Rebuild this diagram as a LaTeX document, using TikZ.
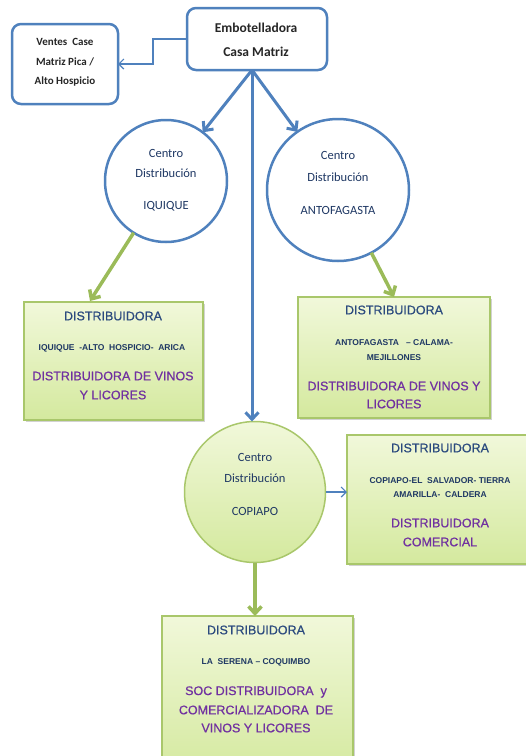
\documentclass[tikz,border=0pt]{standalone}
\usepackage{fontspec}
\setmainfont{Liberation Sans}
\newfontfamily\calibrifont{Carlito}
\newfontfamily\heavysans[FakeBold=0.6]{Liberation Sans}
\usetikzlibrary{arrows.meta,shadows}

\definecolor{oblue}{HTML}{4F81BD}
\definecolor{ogreen}{HTML}{9BBB59}
\definecolor{boxedge}{HTML}{A9C76B}
\definecolor{navy}{HTML}{1F3864}
\definecolor{titleblue}{HTML}{2B4A7E}
\definecolor{purp}{HTML}{7030A0}
\definecolor{filltop}{HTML}{F1F8DA}
\definecolor{fillbot}{HTML}{D4E99E}

\tikzset{
  roundbox/.style={draw=oblue, line width=2.5pt, rounded corners=9pt, fill=white, inner sep=0pt, outer sep=0pt},
  plaincircle/.style={circle, draw=oblue, line width=2.5pt, fill=white, inner sep=0pt, outer sep=0pt},
  greencircle/.style={circle, draw=boxedge, line width=1.5pt, top color=filltop, bottom color=fillbot, inner sep=0pt, outer sep=0pt},
  distbox/.style={draw=boxedge, line width=1.3pt, top color=filltop, bottom color=fillbot, inner sep=0pt, outer sep=0pt,
    drop shadow={shadow xshift=1.5pt, shadow yshift=-1.5pt, opacity=0.35}},
  bluearrow/.style={draw=oblue, line width=3pt, -{Straight Barb[length=7pt, width=13pt]}},
  greenarrow/.style={draw=ogreen, line width=3.5pt, -{Straight Barb[length=7pt, width=13pt]}},
  thinarrow/.style={draw=oblue, line width=1.2pt, -{Straight Barb[length=5pt, width=10pt]}},
  headtext/.style={font=\calibrifont\bfseries\fontsize{13.5}{15}\selectfont, text=black!85, inner sep=0pt},
  sidetext/.style={font=\calibrifont\bfseries\fontsize{11}{12}\selectfont, text=black!85, inner sep=0pt},
  circtext/.style={font=\calibrifont\fontsize{12.5}{14}\selectfont, text=navy, inner sep=0pt},
  titletext/.style={font=\heavysans\fontsize{12.5}{14}\selectfont, text=titleblue, inner sep=0pt},
  citytext/.style={font=\bfseries\fontsize{8.5}{10}\selectfont, text=navy, inner sep=0pt},
  purptext/.style={font=\heavysans\fontsize{12.5}{14}\selectfont, text=purp, inner sep=0pt},
}

\begin{document}
\begin{tikzpicture}[x=1pt, y=-1pt]
\useasboundingbox (0,0) rectangle (526,756);
\clip (0,0) rectangle (526,756);
\fill[white] (0,0) rectangle (526,756);

% ---- shapes ----
\node[roundbox, minimum width=140pt, minimum height=62pt] (emb) at (257,39) {};
\node[roundbox, minimum width=106pt, minimum height=80pt] (ventes) at (65,64) {};
\node[plaincircle, minimum size=122pt] (iq) at (166,181) {};
\node[plaincircle, minimum size=142pt] (ant) at (338,190) {};
\node[greencircle, minimum size=141pt] (cop) at (255,492) {};
\node[distbox, minimum width=179pt, minimum height=118pt] (iqd) at (113.5,361) {};
\node[distbox, minimum width=192pt, minimum height=121pt] (antd) at (394,357.5) {};
\node[distbox, minimum width=190pt, minimum height=129pt] (copd) at (442,499.5) {};
\node[distbox, minimum width=191pt, minimum height=160pt] (ser) at (257.5,696) {};

% ---- connectors ----
\coordinate (hub) at (252,70);
\coordinate (iqin) at (90,301);
\draw[bluearrow] (hub) -- (iq.53);
\draw[bluearrow] (hub) -- (ant.125);
\draw[bluearrow] (hub) -- (hub |- cop.north);
\draw[thinarrow] (emb.west) -- ++(-34,0) |- (ventes.east);
\draw[greenarrow] (iq.238) -- (iqin);
\draw[greenarrow] (ant.298) -- (antd.north);
\draw[greenarrow] (cop.south) -- (cop.south |- ser.north);
\draw[thinarrow] (cop.east) -- (cop.east -| copd.west);

% ---- texts ----
\node[headtext] at (256,28) {Embotelladora};
\node[headtext] at (256,52) {Casa Matriz};

\node[sidetext] at (65,42) {Ventes\ \ Case};
\node[sidetext] at (65,62) {Matriz Pica /};
\node[sidetext] at (65,82) {Alto Hospicio};

\node[circtext] at (166,153) {Centro};
\node[circtext] at (166,173) {Distribución};
\node[circtext] at (166,206) {IQUIQUE};

\node[circtext] at (338,155) {Centro};
\node[circtext] at (338,177) {Distribución};
\node[circtext] at (338,210) {ANTOFAGASTA};

\node[circtext] at (255,457) {Centro};
\node[circtext] at (255,478) {Distribución};
\node[circtext] at (255,511) {COPIAPO};

\node[titletext] at (113,316) {DISTRIBUIDORA};
\node[citytext] at (112,348) {IQUIQUE\ \ -ALTO\ \ HOSPICIO-\ \ ARICA};
\node[purptext] at (113,376) {DISTRIBUIDORA DE VINOS};
\node[purptext] at (113,395) {Y LICORES};

\node[titletext] at (394,310) {DISTRIBUIDORA};
\node[citytext] at (394,343) {ANTOFAGASTA\ \ \ -- CALAMA-};
\node[citytext] at (394,358) {MEJILLONES};
\node[purptext] at (394,386) {DISTRIBUIDORA DE VINOS Y};
\node[purptext] at (394,404) {LICORES};

\node[titletext] at (440,448) {DISTRIBUIDORA};
\node[citytext] at (440,481) {COPIAPO-EL\ \ SALVADOR-\ TIERRA};
\node[citytext] at (440,495) {AMARILLA-\ \ CALDERA};
\node[purptext] at (440,523) {DISTRIBUIDORA};
\node[purptext] at (440,542) {COMERCIAL};

\node[titletext] at (256,630) {DISTRIBUIDORA};
\node[citytext] at (256,662) {LA\ \ SERENA -- COQUIMBO};
\node[purptext] at (256,692) {SOC DISTRIBUIDORA\ \ y};
\node[purptext] at (256,710) {COMERCIALIZADORA\ \ DE};
\node[purptext] at (256,728) {VINOS Y LICORES};
\end{tikzpicture}
\end{document}
